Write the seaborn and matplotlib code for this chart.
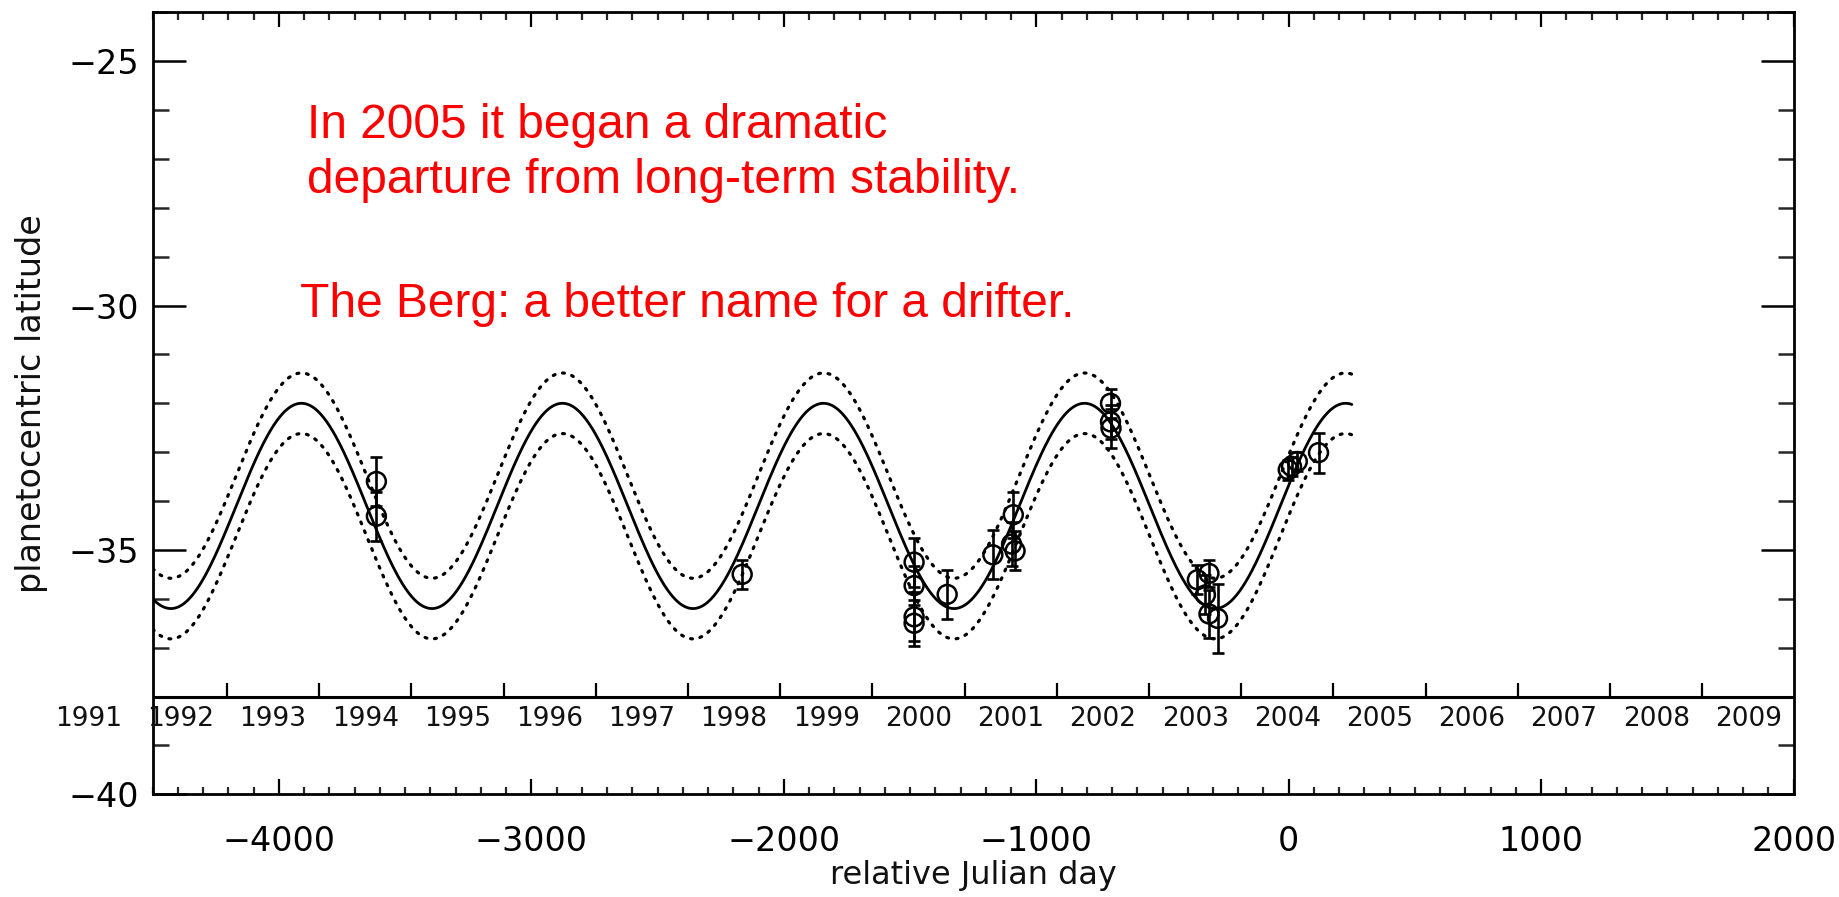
import numpy as np
import pandas as pd
import matplotlib
matplotlib.use("Agg")
import matplotlib.pyplot as plt
import seaborn as sns
from matplotlib.ticker import MultipleLocator

# Measured positions: relative Julian day, planetocentric latitude, 1-sigma error
obs_day = [-3614, -3614, -2165, -1484, -1484, -1484, -1484, -1353, -1172,
           -1098, -1091, -1084, -706, -706, -704, -362, -316, -330, -316,
           -282, -2, 11, 34, 118]
obs_lat = [-33.60, -34.31, -35.50, -35.25, -35.73, -36.37, -36.50, -35.91,
           -35.10, -34.88, -34.28, -35.02, -32.00, -32.38, -32.51, -35.61,
           -35.48, -35.92, -36.31, -36.40, -33.36, -33.29, -33.19, -33.01]
obs_err = [0.50, 0.50, 0.30, 0.50, 0.40, 0.50, 0.47, 0.50, 0.50, 0.45,
           0.47, 0.40, 0.30, 0.35, 0.40, 0.30, 0.27, 0.40, 0.50, 0.70,
           0.20, 0.20, 0.20, 0.41]

# Sinusoidal latitude-oscillation fit and its uncertainty band
fit_mean = -34.1
fit_amp = 2.1
fit_period = 1034.0
fit_peak_day = -809.0
fit_band = 0.62
fit_start, fit_end = -4500, 250

# Calendar years shown along the inner date axis
years = list(range(1991, 2010))
day0_year = 2004.515          # decimal year of relative day 0
days_per_year = 365.25
year_axis_lat = -38.0

x_ticks = [-4000, -3000, -2000, -1000, 0, 1000, 2000]
y_ticks = [-40, -35, -30, -25]
x_range = (-4500, 2000)
y_range = (-40, -24)

notes = ["In 2005 it began a dramatic",
         "departure from long-term stability.",
         "The Berg: a better name for a drifter."]

sns.set_theme(style="ticks")
plt.rcParams["font.family"] = ["DejaVu Sans"]
plt.rcParams["axes.linewidth"] = 2.0

fig = plt.figure(figsize=(18.4, 8.97), dpi=100)
ax = fig.add_axes([0.0830, 0.1145, 0.8918, 0.8718])

# fit curve and +/- band
fit_x = np.linspace(fit_start, fit_end, 1200)
fit_y = fit_mean + fit_amp * np.cos(2 * np.pi * (fit_x - fit_peak_day) / fit_period)
curves = pd.DataFrame({"day": fit_x, "mid": fit_y,
                       "hi": fit_y + fit_band, "lo": fit_y - fit_band})
sns.lineplot(data=curves, x="day", y="mid", ax=ax, color="black",
             linewidth=2.0, sort=False)
for col in ("hi", "lo"):
    sns.lineplot(data=curves, x="day", y=col, ax=ax, color="black",
                 linewidth=2.3, linestyle=(0, (0.6, 2.4)), sort=False,
                 dash_capstyle="round")

# observations
ax.errorbar(obs_day, obs_lat, yerr=obs_err, fmt="none", ecolor="black",
            elinewidth=1.9, capsize=4.3, capthick=1.9, zorder=3)
obs = pd.DataFrame({"day": obs_day, "lat": obs_lat})
sns.scatterplot(data=obs, x="day", y="lat", ax=ax, marker="o", s=185,
                facecolors="none", edgecolor="black", linewidth=1.8, zorder=4)

# inner calendar axis
ax.axhline(year_axis_lat, color="black", linewidth=2.2, zorder=2)
year_edges = [(y - day0_year) * days_per_year for y in range(years[0], years[-1] + 2)]
year_edges = [d for d in year_edges if x_range[0] < d < x_range[1]]
ax.vlines(year_edges, year_axis_lat, year_axis_lat + 0.28, color="black",
          linewidth=1.6, zorder=2)
for y in years:
    d = (y + 0.5 - day0_year) * days_per_year
    ax.text(d, year_axis_lat - 0.45, str(y), ha="center", va="center",
            fontsize=19, color="#111111", clip_on=False)

ax.set_xlim(*x_range)
ax.set_ylim(*y_range)
ax.set_xticks(x_ticks)
ax.set_yticks(y_ticks)
ax.xaxis.set_minor_locator(MultipleLocator(100))
ax.yaxis.set_minor_locator(MultipleLocator(1))
ax.tick_params(axis="x", which="major", direction="in", length=10.8, width=1.6,
               top=True, bottom=True, labelsize=24, pad=22, colors="black")
ax.tick_params(axis="x", which="minor", direction="in", length=5.4, width=1.6,
               top=True, bottom=True)
ax.tick_params(axis="y", which="major", direction="in", length=23.8, width=1.8,
               left=True, right=True, labelsize=24, pad=10, colors="black")
ax.tick_params(axis="y", which="minor", direction="in", length=11.5, width=1.8,
               left=True, right=True)
for s in ax.spines.values():
    s.set_visible(True)
    s.set_color("black")
    s.set_linewidth(2.0)

ax.set_xlabel("relative Julian day", fontsize=23, color="#111111")
ax.set_ylabel("planetocentric latitude", fontsize=24, color="#111111")
ax.xaxis.set_label_coords(0.5, -0.084)
ax.yaxis.set_label_coords(-0.064, 0.5)

note_font = dict(family=["Liberation Sans", "DejaVu Sans"], fontsize=34.5,
                 color="#ff0000", va="baseline", ha="left")
fig.text(0.1667, 1 - 138.3 / 897, notes[0], **note_font)
fig.text(0.1667, 1 - 193.3 / 897, notes[1], **note_font)
fig.text(0.1628, 1 - 316.7 / 897, notes[2], **note_font)

fig.savefig("out.png", dpi=100, facecolor="white")
